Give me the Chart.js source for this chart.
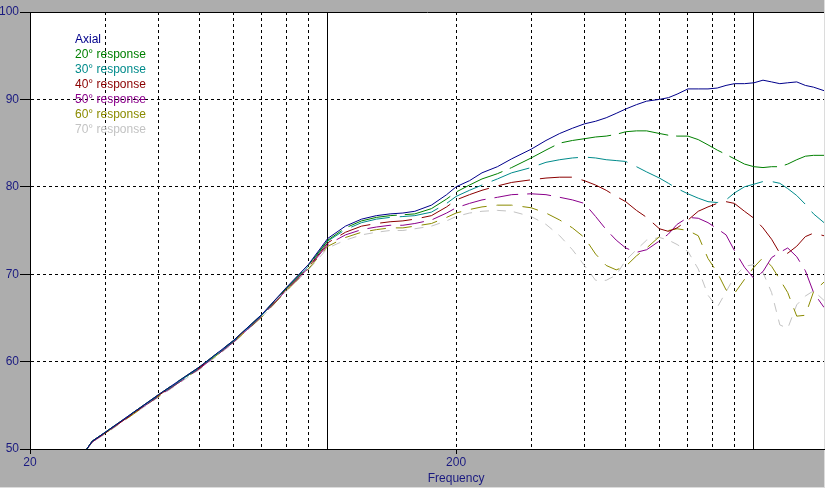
<!DOCTYPE html>
<html>
<head>
<meta charset="utf-8">
<script src="https://cdn.jsdelivr.net/npm/chart.js@4.4.0/dist/chart.umd.min.js"></script>
<style>
  html, body { margin: 0; padding: 0; background: #adadad; }
  canvas { display: block; }
</style>
</head>
<body>
<canvas id="responseGraph" width="825" height="488"></canvas>
<script>
//data section

//frequency points (Hz)
const freq = [27, 28, 30, 35, 40, 45, 50, 60, 70, 80, 90,
    100, 110, 120, 130, 140, 150, 160, 175, 190,
    200, 215, 230, 250, 270, 300, 325, 350, 375,
    400, 425, 450, 475, 500, 530, 560, 600, 630, 660,
    700, 740, 780, 820, 860, 900, 950,
    1000, 1050, 1100, 1150, 1200, 1260, 1320, 1380, 1460];

//spl in dB per angle
const axial = [49.8, 50.9, 51.9, 54.2, 56.2, 57.9, 59.4, 62.4, 65.4, 68.5, 71.1,
    74.1, 75.5, 76.3, 76.7, 76.9, 77.0, 77.2, 77.9, 79.1,
    80.0, 80.7, 81.6, 82.3, 83.2, 84.3, 85.3, 86.1, 86.7,
    87.2, 87.5, 87.9, 88.4, 88.9, 89.4, 89.8, 90.0, 90.2, 90.6,
    91.2, 91.2, 91.2, 91.3, 91.6, 91.8, 91.8,
    91.9, 92.2, 92.0, 91.8, 91.9, 92.0, 91.6, 91.4, 91.0];
const deg20 = [49.8, 50.9, 51.9, 54.2, 56.2, 57.9, 59.4, 62.4, 65.4, 68.4, 71.0,
    73.9, 75.3, 76.1, 76.5, 76.7, 76.8, 76.9, 77.5, 78.6,
    79.4, 80.2, 80.9, 81.5, 82.2, 83.3, 84.2, 85.0, 85.3,
    85.5, 85.7, 85.8, 86.0, 86.3, 86.4, 86.4, 86.1, 85.9, 85.8,
    85.8, 85.4, 84.8, 84.2, 83.7, 83.2, 82.6,
    82.3, 82.2, 82.3, 82.3, 82.6, 83.1, 83.5, 83.6, 83.6];
const deg30 = [49.8, 50.9, 51.9, 54.2, 56.1, 57.8, 59.3, 62.3, 65.3, 68.4, 70.9,
    73.8, 75.1, 75.9, 76.3, 76.5, 76.6, 76.7, 77.1, 78.1,
    78.9, 79.6, 80.2, 80.9, 81.6, 82.2, 82.8, 83.1, 83.3,
    83.4, 83.3, 83.1, 83.0, 82.9, 82.3, 81.7, 81.0, 80.4, 79.8,
    79.2, 78.7, 78.3, 78.2, 78.5, 79.3, 80.0,
    80.3, 80.6, 80.6, 80.4, 79.8, 79.0, 78.0, 76.9, 75.9];
const deg40 = [49.8, 50.9, 51.8, 54.1, 56.1, 57.8, 59.3, 62.3, 65.3, 68.3, 70.8,
    73.6, 74.8, 75.5, 75.8, 76.0, 76.1, 76.3, 76.7, 77.7,
    78.5, 79.1, 79.6, 80.1, 80.5, 80.8, 81.0, 81.1, 81.1,
    80.7, 80.2, 79.6, 78.9, 78.3, 77.3, 76.5, 75.2, 74.9, 75.3,
    76.2, 77.2, 77.7, 78.1, 78.3, 78.1, 77.2,
    76.4, 75.3, 74.0, 72.4, 72.4, 73.2, 74.3, 74.7, 74.4];
const deg50 = [49.8, 50.8, 51.8, 54.1, 56.0, 57.7, 59.2, 62.2, 65.2, 68.2, 70.7,
    73.4, 74.5, 75.1, 75.4, 75.6, 75.6, 75.8, 76.2, 77.0,
    77.6, 78.1, 78.5, 78.8, 79.1, 79.2, 79.1, 78.8, 78.5,
    78.1, 76.6, 75.1, 73.9, 73.0, 72.5, 72.8, 73.8, 74.6, 75.7,
    76.5, 76.4, 75.9, 75.2, 74.5, 72.7, 70.8,
    69.5, 70.3, 71.9, 72.5, 73.0, 72.0, 70.4, 67.9, 66.2];
const deg60 = [49.8, 50.8, 51.8, 54.0, 56.0, 57.7, 59.2, 62.2, 65.1, 68.1, 70.6,
    73.2, 74.2, 74.8, 75.1, 75.3, 75.3, 75.5, 75.8, 76.5,
    77.0, 77.4, 77.7, 77.9, 77.9, 77.6, 77.0, 76.2, 75.3,
    74.2, 72.3, 71.0, 70.5, 70.9, 72.1, 73.0, 74.3, 75.0, 75.2,
    75.0, 74.4, 71.8, 70.2, 68.2, 67.8, 69.4,
    70.8, 71.9, 70.9, 69.4, 67.9, 65.2, 65.3, 68.0, 69.1];
const deg70 = [49.7, 50.8, 51.7, 54.0, 55.9, 57.6, 59.1, 62.1, 65.1, 68.1, 70.5,
    73.0, 73.9, 74.5, 74.8, 75.0, 75.0, 75.2, 75.5, 76.1,
    76.6, 77.0, 77.2, 77.3, 77.2, 76.6, 75.7, 74.4, 72.8,
    71.0, 69.3, 69.3, 69.9, 71.6, 72.8, 73.9, 74.2, 73.9, 73.4,
    72.6, 70.6, 67.6, 66.2, 68.0, 69.7, 70.9,
    71.1, 70.2, 67.9, 64.2, 63.8, 66.5, 67.5, 68.1, 67.0];

const seriesLabels = ['Axial', '20° response', '30° response', '40° response',
    '50° response', '60° response', '70° response'];
const seriesValues = [axial, deg20, deg30, deg40, deg50, deg60, deg70];
const seriesColors = ['#00008b', '#008000', '#008b8b', '#8b0000', '#8b008b', '#8b8b00', '#c3c3c3'];
//each angle has its own gap pattern
const seriesDash = [[], [50, 8], [40, 10], [32, 10], [24, 9], [16, 10], [9, 8]];

//axis ticks
const xTicks = [20, 30, 40, 50, 60, 70, 80, 90, 100, 200, 300, 400, 500, 600, 700, 800, 900, 1000];
const yTicks = [50, 60, 70, 80, 90, 100];

const fontFamily = '"Liberation Sans", Arial, sans-serif';
const labelColor = '#1a1a80';

//gray background + white plot area
const backgroundPlugin = {
    id: 'backgroundPlugin',
    beforeDraw: (chart) => {
        const ctx = chart.ctx;
        const a = chart.chartArea;
        ctx.save();
        ctx.fillStyle = '#adadad';
        ctx.fillRect(0, 0, chart.width, chart.height);
        ctx.fillStyle = '#ffffff';
        ctx.fillRect(a.left, a.top, a.right - a.left, a.bottom - a.top);
        //light edges
        ctx.fillStyle = '#dcdcdc';
        ctx.fillRect(chart.width - 1, 0, 1, chart.height);
        ctx.fillRect(0, chart.height - 1, chart.width, 1);
        ctx.restore();
    }
};

//legend text in the top-left corner
const legendPlugin = {
    id: 'legendPlugin',
    afterDraw: (chart) => {
        const ctx = chart.ctx;
        ctx.save();
        ctx.font = '12px ' + fontFamily;
        ctx.textBaseline = 'middle';
        ctx.textAlign = 'left';
        seriesLabels.forEach((lbl, i) => {
            ctx.fillStyle = seriesColors[i];
            ctx.fillText(lbl, 75, 40 + i * 15);
        });
        ctx.restore();
    }
};

//response graph
const responseGraphGenerator = () => {
    var ctx = document.getElementById('responseGraph').getContext('2d');
    var chart = new Chart(ctx, {
        type: 'line',

        data: {
            datasets: seriesValues.map((vals, i) => ({
                label: seriesLabels[i],
                data: freq.map((f, j) => ({ x: f, y: vals[j] })),
                borderColor: seriesColors[i],
                borderWidth: 1,
                borderDash: seriesDash[i],
                pointRadius: 0,
                tension: 0,
                fill: false
            }))
        },

        options: {
            responsive: false,
            animation: false,
            devicePixelRatio: 1,
            layout: {
                padding: { left: 0, right: 1, top: 12, bottom: 0 }
            },
            plugins: {
                legend: { display: false },
                tooltip: { enabled: false }
            },
            scales: {
                x: {
                    type: 'logarithmic',
                    min: 20,
                    max: 1460,
                    afterBuildTicks: (scale) => {
                        scale.ticks = xTicks.map(v => ({ value: v }));
                    },
                    afterFit: (scale) => { scale.height = 39; },
                    ticks: {
                        autoSkip: false,
                        maxRotation: 0,
                        padding: 1,
                        color: labelColor,
                        font: { family: fontFamily, size: 12, lineHeight: 1.3 },
                        callback: (value) => {
                            if (value === 20) return '20';
                            if (value === 200) return ['200', 'Frequency'];
                            return '';
                        }
                    },
                    grid: {
                        color: '#000000',
                        lineWidth: 1,
                        tickLength: 5,
                        tickColor: (c) => (c.tick && (c.tick.value === 20 || c.tick.value === 200)) ? '#000000' : 'rgba(0,0,0,0)'
                    },
                    border: {
                        color: '#000000',
                        width: 1,
                        dash: (c) => {
                            if (!c.tick) return [];
                            return (c.tick.value === 100 || c.tick.value === 1000) ? [] : [3, 3];
                        }
                    }
                },
                y: {
                    type: 'linear',
                    min: 50,
                    max: 100,
                    afterBuildTicks: (scale) => {
                        scale.ticks = yTicks.map(v => ({ value: v }));
                    },
                    afterFit: (scale) => { scale.width = 30; },
                    ticks: {
                        padding: 1,
                        color: labelColor,
                        font: { family: fontFamily, size: 12 }
                    },
                    grid: {
                        color: '#000000',
                        lineWidth: 1,
                        tickLength: 10,
                        tickColor: '#000000'
                    },
                    border: {
                        color: '#000000',
                        width: 1,
                        dash: (c) => {
                            if (!c.tick) return [];
                            return c.tick.value === 100 ? [] : [3, 3];
                        }
                    }
                }
            }
        },
        plugins: [backgroundPlugin, legendPlugin]
    });
}
responseGraphGenerator()
</script>
</body>
</html>
